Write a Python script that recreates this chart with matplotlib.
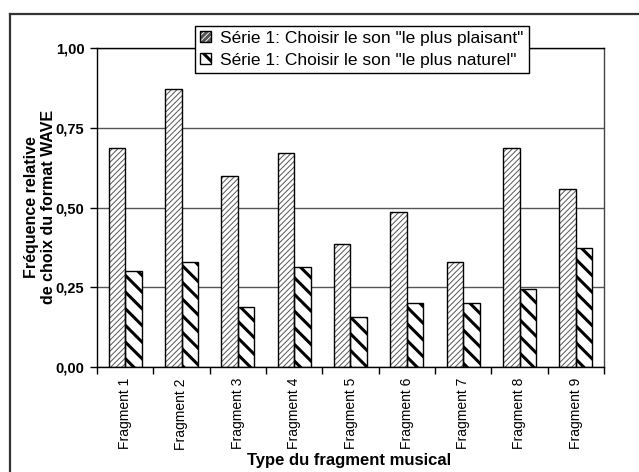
import numpy as np
import matplotlib
matplotlib.use("Agg")
import matplotlib.pyplot as plt
from matplotlib.lines import Line2D
from matplotlib.legend_handler import HandlerTuple

plt.rcParams['font.family'] = ['Liberation Sans', 'DejaVu Sans']

fragments = ["Fragment %d" % i for i in range(1, 10)]
plaisant = [0.685, 0.872, 0.600, 0.672, 0.386, 0.486, 0.330, 0.686, 0.557]
naturel = [0.300, 0.330, 0.187, 0.315, 0.158, 0.202, 0.202, 0.244, 0.372]
yticks = [0.0, 0.25, 0.5, 0.75, 1.0]
yticklabels = ["0,00", "0,25", "0,50", "0,75", "1,00"]

label1 = 'Série 1: Choisir le son "le plus plaisant"'
label2 = 'Série 1: Choisir le son "le plus naturel"'

W, H = 639, 472
fig = plt.figure(figsize=(W / 100, H / 100), dpi=100)
ax = fig.add_axes([97 / W, 1 - 367 / H, 507 / W, 319 / H])

x = np.arange(len(fragments))
w = 0.29


def hatched(xs, vals, hatch, hcolor, hlw):
    plt.rcParams['hatch.linewidth'] = hlw
    bars = ax.bar(xs, vals, w, color="white", edgecolor=hcolor, hatch=hatch,
                  linewidth=0, zorder=2)
    for p in bars:
        if hasattr(p, "set_hatch_linewidth"):
            p.set_hatch_linewidth(hlw)
    outline = ax.bar(xs, vals, w, fill=False, edgecolor="black",
                     linewidth=1.0, zorder=3)
    return bars, outline


b1, o1 = hatched(x - w / 2, plaisant, "//////", "#555555", 0.7)
b2, o2 = hatched(x + w / 2, naturel, "\\\\", "black", 2.2)

ax.set_xlim(-0.5, len(fragments) - 0.5)
ax.set_ylim(0, 1.0)
ax.set_yticks(yticks)
ax.set_yticklabels(yticklabels, fontsize=10.5, fontweight="bold")
ax.yaxis.grid(True, color="#555555", linewidth=1.0, zorder=0)
ax.set_axisbelow(True)

ax.set_xticks(x)
ax.set_xticklabels(fragments, rotation=90, fontsize=10)
ax.tick_params(axis="x", length=0, pad=8)
ax.set_xticks(np.arange(len(fragments) + 1) - 0.5, minor=True)
ax.tick_params(axis="x", which="minor", length=5, width=1, direction="out")
ax.tick_params(axis="y", length=5, width=1, direction="out", pad=4)

for s in ["left", "bottom", "top"]:
    ax.spines[s].set_color("black")
    ax.spines[s].set_linewidth(1.0)
ax.spines["right"].set_color("#444444")
ax.spines["right"].set_linewidth(1.0)

leg = fig.legend([(b1[0], o1[0]), (b2[0], o2[0])], [label1, label2],
                 handler_map={tuple: HandlerTuple(ndivide=1)},
                 loc="upper left", bbox_to_anchor=(195 / W, 1 - 25.5 / H),
                 fontsize=12.5, frameon=True, fancybox=False, framealpha=1,
                 edgecolor="black", handlelength=0.6, handleheight=0.6,
                 handletextpad=0.55, borderpad=0.3, labelspacing=0.4,
                 borderaxespad=0)
leg.get_frame().set_linewidth(1.0)
leg.set_zorder(10)

fig.text(40 / W, 1 - 207 / H, "Fréquence relative\nde choix du format WAVE",
         rotation=90, ha="center", va="center", fontsize=11.5,
         fontweight="bold", linespacing=1.15)
fig.text(349 / W, 1 - 461 / H, "Type du fragment musical", ha="center",
         va="center", fontsize=12, fontweight="bold")

fig.add_artist(Line2D([10 / W, 10 / W], [0, 1 - 14 / H], color="#333333",
                      linewidth=1.6, transform=fig.transFigure))
fig.add_artist(Line2D([10 / W, 1], [1 - 14 / H, 1 - 14 / H], color="#333333",
                      linewidth=1.6, transform=fig.transFigure))

fig.savefig("out.png", dpi=100)
